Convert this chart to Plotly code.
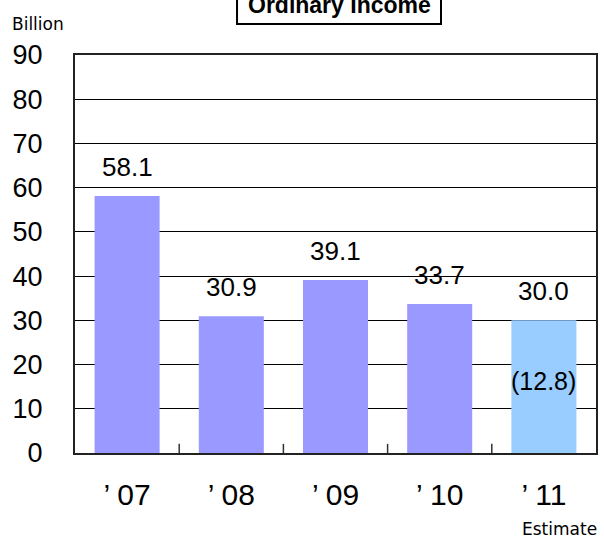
import plotly.graph_objects as go

categories = ["’ 07", "’ 08", "’ 09", "’ 10", "’ 11"]
values = [58.1, 30.9, 39.1, 33.7, 30.0]
value_labels = ["58.1", "30.9", "39.1", "33.7", "30.0"]
bar_colors = ["#9999FF", "#9999FF", "#9999FF", "#9999FF", "#99CCFF"]
sub_value = 12.8
sub_label = "(12.8)"
y_ticks = [0, 10, 20, 30, 40, 50, 60, 70, 80, 90]

fig = go.Figure()
fig.add_trace(go.Bar(x=categories, y=values, marker=dict(color=bar_colors, line=dict(width=0)),
                     width=0.624, hoverinfo="skip"))

annotations = []
for c, v, t in zip(categories, values, value_labels):
    annotations.append(dict(x=c, y=v, text=t, showarrow=False, yanchor="bottom", yshift=12,
                            font=dict(family="Liberation Sans", size=26, color="black")))
annotations.append(dict(x=categories[-1], y=sub_value, text=sub_label, showarrow=False,
                        yanchor="bottom", yshift=-1,
                        font=dict(family="Liberation Sans", size=25, color="black")))
annotations.append(dict(xref="paper", yref="paper", x=0.507, y=1.088, text="<b>Ordinary Income</b>",
                        showarrow=False, yanchor="bottom",
                        font=dict(family="Liberation Sans", size=23, color="black")))
annotations.append(dict(xref="paper", yref="paper", x=-0.125, y=1.047, text="Billion",
                        showarrow=False, xanchor="left", yanchor="bottom",
                        font=dict(family="DejaVu Sans", size=17, color="black")))
annotations.append(dict(xref="paper", yref="paper", x=1.006, y=-0.19, text="Estimate",
                        showarrow=False, xanchor="right", yanchor="middle",
                        font=dict(family="DejaVu Sans", size=17, color="black")))

fig.update_layout(
    width=604, height=541,
    margin=dict(l=75, r=8, t=55, b=88, autoexpand=False),
    paper_bgcolor="white", plot_bgcolor="white",
    showlegend=False,
    annotations=annotations,
    xaxis=dict(showline=True, linecolor="#222222", linewidth=2, mirror=True, automargin=False,
               tickfont=dict(family="Liberation Sans", size=30, color="black"),
               ticks="", ticklabelstandoff=14, showgrid=False),
    yaxis=dict(range=[0, 90], tickvals=y_ticks, showgrid=True, gridcolor="black", gridwidth=1,
               showline=True, linecolor="#222222", linewidth=2, mirror=True, automargin=False,
               tickfont=dict(family="Liberation Sans", size=27, color="black"),
               ticks="", ticklabelstandoff=25, zeroline=False),
)
# title box
fig.add_shape(type="rect", xref="paper", yref="paper", x0=0.311, x1=0.7025, y0=1.078, y1=1.25,
              line=dict(color="black", width=2), fillcolor="rgba(0,0,0,0)", layer="above")
# small tick marks at category boundaries
for i in range(len(categories) - 1):
    fig.add_shape(type="line", xref="x", yref="paper", x0=i + 0.5, x1=i + 0.5, y0=0, y1=0.023,
                  line=dict(color="#333333", width=1.5))

fig.write_html("out.html", config={"displayModeBar": False},
               post_script="document.body.style.margin='0px';")
